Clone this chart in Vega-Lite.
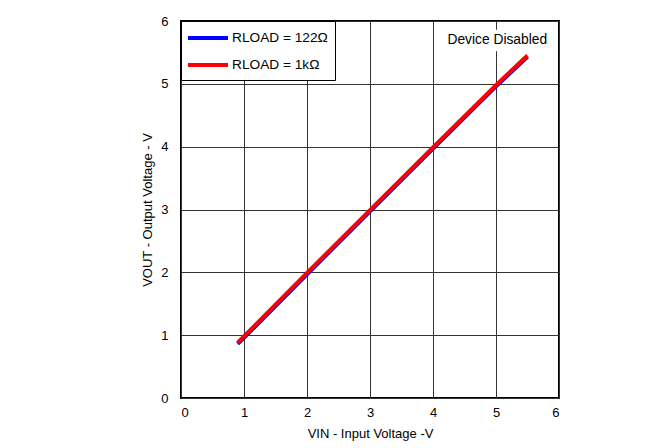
{
  "$schema": "https://vega.github.io/schema/vega-lite/v6.json",
  "width": 378,
  "height": 377,
  "autosize": "none",
  "padding": {"left": 181, "top": 21, "right": 112, "bottom": 50},
  "background": "white",
  "config": {
    "font": "Liberation Sans",
    "view": {"stroke": "black", "strokeWidth": 2},
    "legend": {"strokeColor": "black"},
    "axis": {
      "labelFont": "Liberation Sans",
      "titleFont": "Liberation Sans",
      "labelFontSize": 13,
      "titleFontSize": 13,
      "titleFontWeight": "normal",
      "labelColor": "black",
      "titleColor": "black",
      "grid": true,
      "gridColor": "#333333",
      "gridWidth": 1,
      "gridOpacity": 1,
      "ticks": false,
      "domain": false,
      "format": "d"
    }
  },
  "datasets": {
    "curves": [
      {"vin": 0.9, "vout": 0.86, "series": "RLOAD = 122Ω"},
      {"vin": 2.0, "vout": 1.97, "series": "RLOAD = 122Ω"},
      {"vin": 3.0, "vout": 2.97, "series": "RLOAD = 122Ω"},
      {"vin": 4.0, "vout": 3.97, "series": "RLOAD = 122Ω"},
      {"vin": 5.0, "vout": 4.96, "series": "RLOAD = 122Ω"},
      {"vin": 5.5, "vout": 5.43, "series": "RLOAD = 122Ω"},
      {"vin": 0.9, "vout": 0.88, "series": "RLOAD = 1kΩ"},
      {"vin": 2.0, "vout": 1.99, "series": "RLOAD = 1kΩ"},
      {"vin": 3.0, "vout": 2.99, "series": "RLOAD = 1kΩ"},
      {"vin": 4.0, "vout": 3.99, "series": "RLOAD = 1kΩ"},
      {"vin": 5.0, "vout": 4.98, "series": "RLOAD = 1kΩ"},
      {"vin": 5.5, "vout": 5.45, "series": "RLOAD = 1kΩ"}
    ],
    "notes": [{"label": "Device Disabled", "x": 5.02, "y": 5.7, "x0": 4.25, "x1": 5.8, "y0": 5.52, "y1": 5.86}]
  },
  "layer": [
    {
      "data": {"name": "notes"},
      "mark": {"type": "rect", "color": "white", "opacity": 1},
      "encoding": {
        "x": {"field": "x0", "type": "quantitative"},
        "x2": {"field": "x1"},
        "y": {"field": "y0", "type": "quantitative"},
        "y2": {"field": "y1"}
      }
    },
    {
      "data": {"name": "curves"},
      "mark": {"type": "line", "strokeWidth": 4, "clip": true},
      "encoding": {
        "x": {
          "field": "vin", "type": "quantitative",
          "scale": {"domain": [0, 6], "nice": false},
          "axis": {"values": [0, 1, 2, 3, 4, 5, 6], "title": "VIN - Input Voltage -V", "titlePadding": 8, "labelPadding": 8}
        },
        "y": {
          "field": "vout", "type": "quantitative",
          "scale": {"domain": [0, 6], "nice": false},
          "axis": {"values": [0, 1, 2, 3, 4, 5, 6], "title": "VOUT - Output Voltage - V", "titlePadding": 6, "labelPadding": 13}
        },
        "color": {
          "field": "series", "type": "nominal",
          "scale": {"domain": ["RLOAD = 122Ω", "RLOAD = 1kΩ"], "range": ["#0000ff", "#ff0000"]},
          "legend": {
            "title": null,
            "orient": "top-left",
            "offset": 0,
            "strokeColor": "black",
            "fillColor": "white",
            "padding": 7,
            "symbolType": "M-2.5,0H2.5",
            "symbolSize": 256,
            "symbolOffset": 10,
            "symbolStrokeWidth": 4,
            "labelFontSize": 13.7,
            "labelFont": "Liberation Sans",
            "labelColor": "black",
            "rowPadding": 9,
            "labelOffset": 14
          }
        },
        "order": {"field": "series"}
      }
    },
    {
      "data": {"name": "notes"},
      "mark": {"type": "text", "font": "Liberation Sans", "fontSize": 13.8, "color": "black", "align": "center", "baseline": "middle"},
      "encoding": {
        "text": {"field": "label", "type": "nominal"},
        "x": {"field": "x", "type": "quantitative"},
        "y": {"field": "y", "type": "quantitative"}
      }
    }
  ]
}
